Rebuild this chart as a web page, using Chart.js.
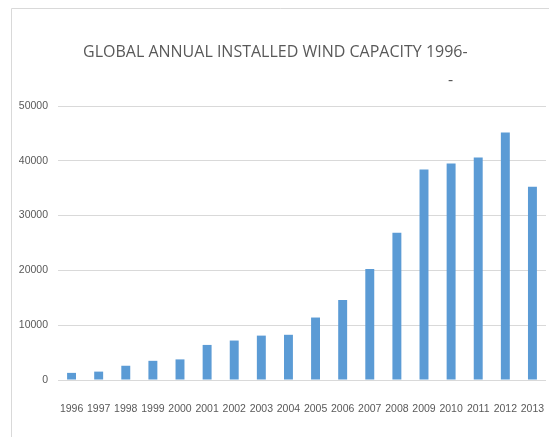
<!DOCTYPE html>
<html>
<head>
<meta charset="utf-8">
<script src="https://cdn.jsdelivr.net/npm/chart.js@4"></script>
<style>
  html, body { margin: 0; padding: 0; background: #fff; overflow: hidden; }
  canvas { display: block; }
</style>
</head>
<body>
<canvas id="myChart" width="549" height="437"></canvas>
<script>
const years = ['1996', '1997', '1998', '1999', '2000', '2001', '2002', '2003', '2004', '2005', '2006', '2007', '2008', '2009', '2010', '2011', '2012', '2013'];
const capacity = [1300, 1530, 2600, 3500, 3760, 6400, 7200, 8100, 8250, 11400, 14600, 20250, 26850, 38400, 39500, 40600, 45170, 35250];
const yTicks = [0, 10000, 20000, 30000, 40000, 50000];

const titleLine = 'GLOBAL ANNUAL INSTALLED WIND CAPACITY 1996-';
const titleFont = '16px "Open Sans", sans-serif';
const tickFont = { family: '"Liberation Sans", Arial, sans-serif', size: 10.5 };

// frame + title drawn straight on the canvas
const decor = {
  id: 'decor',
  beforeDraw(chart) {
    const c = chart.ctx;
    c.save();
    c.strokeStyle = '#d9d9d9';
    c.lineWidth = 1;
    c.beginPath();
    c.moveTo(11.5, 437);
    c.lineTo(11.5, 8.5);
    c.lineTo(549, 8.5);
    c.stroke();
    c.fillStyle = '#595959';
    c.font = titleFont;
    c.textBaseline = 'alphabetic';
    c.fillText(titleLine, 83, 57);
    c.fillText('-', 448, 85);
    c.restore();
  }
};

const ctx = document.getElementById('myChart');

new Chart(ctx, {
  type: 'bar',
  data: {
    labels: years,
    datasets: [{
      label: 'Installed capacity',
      data: capacity,
      backgroundColor: '#5b9bd5',
      barPercentage: 0.33,
      categoryPercentage: 1
    }]
  },
  options: {
    responsive: false,
    animation: false,
    layout: { padding: { top: 106, right: 3, left: 0, bottom: 0 } },
    plugins: {
      legend: { display: false },
      tooltip: { enabled: false }
    },
    scales: {
      x: {
        grid: { display: false },
        border: { display: false },
        ticks: {
          color: '#595959',
          font: tickFont,
          padding: 15,
          maxRotation: 0,
          autoSkip: false
        },
        afterFit(scale) {
          scale.height = 57;
          scale.paddingLeft = 0;
          scale.paddingRight = 0;
        }
      },
      y: {
        min: 0,
        max: 50000,
        afterBuildTicks(scale) { scale.ticks = yTicks.map(v => ({ value: v })); },
        grid: { color: '#d9d9d9', drawTicks: false },
        border: { display: false },
        ticks: {
          color: '#595959',
          font: tickFont,
          padding: 10,
          callback: v => String(v)
        },
        afterFit(scale) { scale.width = 58; }
      }
    }
  },
  plugins: [decor]
});
</script>
</body>
</html>
